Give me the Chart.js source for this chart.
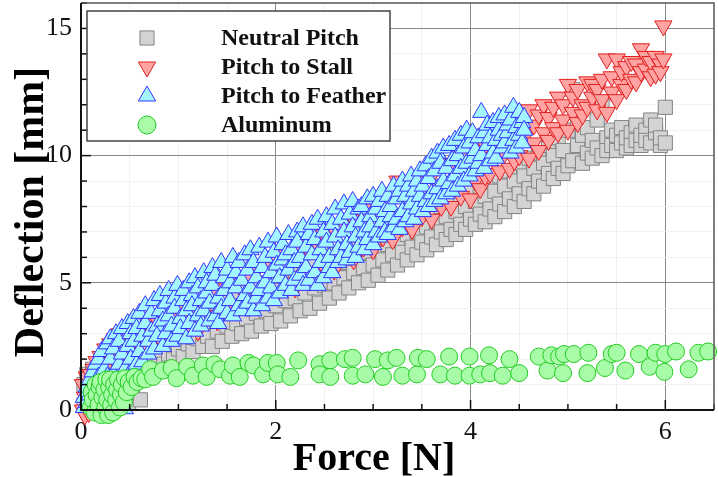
<!DOCTYPE html>
<html>
<head>
<meta charset="utf-8">
<script src="https://cdn.jsdelivr.net/npm/chart.js@4.4.1/dist/chart.umd.min.js"></script>
<style>
  html, body { margin: 0; padding: 0; background: #fff; }
  canvas { display: block; }
</style>
</head>
<body>
<canvas id="myChart" width="718" height="477"></canvas>
<script>
/* globals Chart:false */

// Series names
const seriesNames = ['Neutral Pitch', 'Pitch to Stall', 'Pitch to Feather', 'Aluminum']

// Axis labels
const xTitle = 'Force [N]'
const yTitle = 'Deflection [mm]'
const xTickLabels = [0, 2, 4, 6]
const yTickLabels = [0, 5, 10, 15]

// Neutral Pitch (grey squares), [force, deflection]
const neutralPoints = [
  [0.03, 0.2], [0.03, 1.0], [0.06, 0.6], [0.06, 1.4], [0.09, 0.1], [0.09, 1.1], [0.12, 0.8], [0.12, 1.6],
  [0.15, 0.4], [0.15, 1.3], [0.18, 1.0], [0.18, 1.8], [0.21, 0.3], [0.21, 1.5], [0.25, 0.7], [0.25, 1.9],
  [0.29, 0.2], [0.29, 1.2], [0.33, 0.5], [0.33, 2.0], [0.37, 1.4], [0.37, 0.1], [0.41, 0.6], [0.41, 1.8],
  [0.45, 2.2], [0.45, 1.1], [0.49, 0.3], [0.49, 1.6], [0.53, 2.3], [0.53, 0.7], [0.57, 1.3], [0.57, 1.9],
  [0.61, 2.5], [0.61, 0.4], [0.65, 1.5], [0.65, 2.1], [0.7, 2.7], [0.7, 1.8], [0.75, 1.6], [0.75, 2.4],
  [0.8, 3.0], [0.8, 2.0], [0.85, 1.8], [0.85, 2.6], [0.9, 3.3], [0.9, 2.2], [0.95, 2.0], [0.95, 2.9],
  [1.0, 3.5], [1.0, 2.4], [1.05, 2.1], [1.05, 3.1], [1.1, 3.7], [1.1, 2.6], [1.15, 2.3], [1.15, 3.3],
  [1.2, 3.9], [1.2, 2.8], [1.25, 2.5], [1.25, 3.4], [1.3, 4.0], [1.3, 2.9], [1.35, 2.5], [1.35, 3.6],
  [1.4, 4.2], [1.4, 3.1], [1.45, 2.7], [1.45, 3.8], [1.5, 4.4], [1.5, 3.3], [1.55, 2.9], [1.55, 3.9],
  [1.6, 4.5], [1.6, 3.4], [1.65, 3.0], [1.65, 4.1], [1.7, 4.7], [1.7, 3.6], [1.75, 3.1], [1.75, 4.2],
  [1.8, 4.9], [1.8, 3.8], [1.85, 3.3], [1.85, 4.4], [1.9, 5.0], [1.9, 3.9], [1.95, 3.4], [1.95, 4.6],
  [2.0, 5.2], [2.0, 4.1], [2.05, 3.5], [2.05, 4.7], [2.1, 5.3], [2.1, 4.3], [2.15, 3.7], [2.15, 4.9],
  [2.2, 5.5], [2.2, 4.4], [2.25, 3.9], [2.25, 5.0], [2.3, 5.6], [2.3, 4.6], [2.35, 4.0], [2.35, 5.2],
  [2.4, 5.8], [2.4, 4.8], [2.45, 4.2], [2.45, 5.4], [2.5, 6.0], [2.5, 4.9], [2.55, 4.4], [2.55, 5.5],
  [2.6, 6.1], [2.6, 5.0], [2.65, 4.6], [2.65, 5.7], [2.7, 6.3], [2.7, 5.2], [2.75, 4.8], [2.75, 5.8],
  [2.8, 6.5], [2.8, 5.4], [2.85, 5.0], [2.85, 6.0], [2.9, 6.6], [2.9, 5.6], [2.95, 5.1], [2.95, 6.2],
  [3.0, 6.8], [3.0, 5.7], [3.05, 5.3], [3.05, 6.3], [3.1, 7.0], [3.1, 5.9], [3.15, 5.5], [3.15, 6.5],
  [3.2, 7.1], [3.2, 6.1], [3.25, 5.7], [3.25, 6.7], [3.3, 7.3], [3.3, 6.2], [3.35, 5.9], [3.35, 6.9],
  [3.4, 7.5], [3.4, 6.4], [3.45, 6.1], [3.45, 7.0], [3.5, 7.6], [3.5, 6.6], [3.55, 6.3], [3.55, 7.2],
  [3.6, 7.8], [3.6, 6.8], [3.65, 6.5], [3.65, 7.4], [3.7, 8.0], [3.7, 7.0], [3.75, 6.7], [3.75, 7.6],
  [3.8, 8.2], [3.8, 7.1], [3.85, 6.9], [3.85, 7.8], [3.9, 8.4], [3.9, 7.3], [3.95, 7.1], [3.95, 8.0],
  [4.0, 8.6], [4.0, 7.5], [4.05, 7.3], [4.05, 8.2], [4.1, 8.8], [4.1, 7.7], [4.15, 7.4], [4.15, 8.4],
  [4.2, 9.0], [4.2, 7.9], [4.25, 7.6], [4.25, 8.6], [4.3, 9.2], [4.3, 8.1], [4.35, 7.8], [4.35, 8.8],
  [4.4, 9.4], [4.4, 8.3], [4.45, 8.0], [4.45, 9.0], [4.5, 9.7], [4.5, 8.5], [4.55, 8.2], [4.55, 9.2],
  [4.6, 9.9], [4.6, 8.7], [4.65, 8.5], [4.65, 9.5], [4.7, 10.1], [4.7, 9.0], [4.75, 8.8], [4.75, 9.7],
  [4.8, 10.4], [4.8, 9.3], [4.85, 9.1], [4.85, 10.0], [4.9, 10.7], [4.9, 9.5], [4.95, 9.3], [4.95, 10.2],
  [5.0, 11.0], [5.0, 9.6], [5.05, 12.6], [5.05, 9.8], [5.1, 10.4], [5.1, 11.3], [5.15, 9.7], [5.15, 10.8],
  [5.2, 11.1], [5.2, 10.1], [5.25, 9.9], [5.25, 10.6], [5.3, 11.4], [5.3, 10.3], [5.35, 12.0], [5.35, 10.0],
  [5.4, 10.7], [5.4, 10.2], [5.45, 11.0], [5.45, 10.4], [5.5, 10.2], [5.5, 10.8], [5.55, 10.5], [5.55, 11.1],
  [5.6, 10.3], [5.6, 10.7], [5.65, 10.9], [5.65, 10.4], [5.7, 10.6], [5.7, 11.2], [5.75, 10.4], [5.75, 10.8],
  [5.8, 11.0], [5.8, 10.6], [5.85, 11.4], [5.85, 10.5], [5.9, 10.9], [5.9, 11.2], [5.95, 10.4], [5.95, 10.7],
  [6.0, 11.9], [6.0, 10.5]
]

// Pitch to Stall (red down triangles)
const stallPoints = [
  [0.02, 0.0], [0.02, 1.0], [0.04, 0.5], [0.04, -0.2], [0.06, 1.3], [0.06, 0.2], [0.08, 0.8], [0.08, -0.1],
  [0.1, 1.4], [0.1, 0.4], [0.13, 1.0], [0.13, 1.6], [0.16, 0.6], [0.16, 1.9], [0.2, 1.3], [0.2, 2.1],
  [0.25, 1.1], [0.25, 2.4], [0.3, 1.6], [0.3, 2.6], [0.35, 1.9], [0.35, 2.8], [0.4, 2.2], [0.4, 3.0],
  [0.45, 1.8], [0.45, 2.6], [0.5, 2.4], [0.5, 3.1], [0.55, 2.0], [0.55, 2.8], [0.6, 3.0], [0.6, 3.4],
  [0.65, 2.4], [0.65, 3.2], [0.7, 3.3], [0.7, 2.8], [0.75, 3.6], [0.75, 3.0], [0.8, 3.4], [0.8, 2.9],
  [0.85, 3.7], [0.85, 3.1], [0.9, 3.2], [0.9, 3.9], [0.95, 3.6], [0.95, 2.9], [1.0, 3.4], [1.0, 4.0],
  [1.1, 3.1], [1.1, 3.8], [1.2, 3.1], [1.2, 4.2], [1.3, 3.7], [1.3, 4.4], [1.4, 3.5], [1.4, 4.6],
  [1.5, 4.0], [1.5, 4.8], [1.6, 3.9], [1.6, 5.0], [1.7, 4.4], [1.7, 5.2], [1.8, 4.2], [1.8, 5.5],
  [1.9, 4.7], [1.9, 5.7], [2.0, 4.5], [2.0, 5.9], [2.1, 5.0], [2.1, 6.1], [2.2, 4.8], [2.2, 6.3],
  [2.3, 5.3], [2.3, 6.5], [2.4, 5.1], [2.4, 6.7], [2.5, 5.6], [2.5, 6.9], [2.6, 5.5], [2.6, 7.1],
  [2.7, 6.0], [2.7, 7.3], [2.8, 5.9], [2.8, 7.5], [2.9, 6.4], [2.9, 7.7], [3.0, 6.3], [3.0, 7.9],
  [3.1, 6.8], [3.1, 8.1], [3.2, 6.7], [3.2, 8.3], [3.25, 9.0], [3.25, 7.4], [3.3, 7.2], [3.3, 8.5],
  [3.4, 7.1], [3.4, 8.8], [3.5, 7.6], [3.5, 9.0], [3.6, 7.5], [3.6, 9.2], [3.7, 8.0], [3.7, 9.5],
  [3.8, 8.0], [3.8, 9.7], [3.9, 8.4], [3.9, 10.0], [4.0, 8.3], [4.0, 10.2], [4.05, 9.0], [4.05, 10.6],
  [4.1, 8.7], [4.1, 9.6], [4.15, 10.4], [4.15, 9.2], [4.2, 9.3], [4.2, 10.8], [4.25, 9.9], [4.25, 10.3],
  [4.3, 9.4], [4.3, 11.0], [4.35, 10.1], [4.35, 10.6], [4.4, 9.5], [4.4, 11.3], [4.45, 10.4], [4.45, 9.8],
  [4.5, 11.5], [4.5, 10.0], [4.55, 10.7], [4.55, 11.1], [4.6, 9.9], [4.6, 11.8], [4.65, 10.5], [4.65, 11.2],
  [4.7, 11.6], [4.7, 10.2], [4.75, 10.9], [4.75, 12.0], [4.8, 10.6], [4.8, 11.5], [4.85, 11.9], [4.85, 11.1],
  [4.9, 12.3], [4.9, 10.9], [4.95, 11.4], [4.95, 12.0], [5.0, 12.8], [5.0, 11.0], [5.05, 11.7], [5.05, 12.3],
  [5.1, 11.3], [5.1, 12.6], [5.15, 12.0], [5.15, 11.6], [5.2, 12.9], [5.2, 11.9], [5.25, 12.3], [5.25, 12.8],
  [5.3, 11.8], [5.3, 12.6], [5.35, 13.0], [5.35, 12.2], [5.4, 13.8], [5.4, 11.7], [5.45, 12.5], [5.45, 13.1],
  [5.5, 13.8], [5.5, 12.2], [5.55, 12.8], [5.55, 13.3], [5.6, 13.5], [5.6, 12.6], [5.65, 13.0], [5.65, 13.7],
  [5.7, 13.6], [5.7, 12.9], [5.75, 14.2], [5.75, 13.3], [5.8, 13.4], [5.8, 13.9], [5.85, 13.1], [5.85, 13.7],
  [5.9, 13.2], [5.9, 13.9], [5.95, 13.6], [5.95, 13.3], [5.98, 15.1], [5.98, 13.8]
]

// Pitch to Feather (blue up triangles)
const featherPoints = [
  [0.03, 0.1], [0.03, 0.5], [0.06, 0.9], [0.06, 0.3], [0.09, 1.2], [0.09, 0.6], [0.12, 0.2], [0.12, 1.5],
  [0.15, 0.9], [0.15, 1.8], [0.18, 0.5], [0.18, 1.3], [0.18, 2.0], [0.21, 1.0], [0.21, 2.3], [0.24, 0.7],
  [0.24, 1.6], [0.27, 1.3], [0.27, 2.6], [0.3, 0.9], [0.3, 2.0], [0.3, 2.8], [0.33, 1.4], [0.33, 2.4],
  [0.36, 1.1], [0.36, 3.0], [0.39, 1.8], [0.39, 2.7], [0.42, 1.3], [0.42, 3.2], [0.42, 2.2], [0.45, 0.05],
  [0.45, 1.6], [0.48, 2.5], [0.48, 3.4], [0.51, 1.5], [0.51, 2.0], [0.51, 3.0], [0.54, 2.7], [0.54, 3.6],
  [0.57, 1.8], [0.57, 3.2], [0.6, 2.3], [0.6, 3.8], [0.63, 1.9], [0.63, 2.9], [0.66, 3.4], [0.66, 4.1],
  [0.69, 2.2], [0.69, 2.7], [0.72, 3.1], [0.72, 3.8], [0.75, 2.4], [0.75, 4.3], [0.78, 3.3], [0.78, 2.9],
  [0.81, 3.9], [0.81, 4.5], [0.84, 2.5], [0.84, 3.5], [0.87, 3.0], [0.87, 4.2], [0.9, 4.7], [0.9, 3.7],
  [0.93, 2.7], [0.93, 3.3], [0.96, 4.4], [0.96, 4.0], [0.99, 2.9], [0.99, 4.9], [1.02, 3.6], [1.02, 3.2],
  [1.05, 4.3], [1.05, 4.7], [1.08, 2.8], [1.08, 3.9], [1.11, 5.0], [1.11, 3.4], [1.14, 4.5], [1.14, 4.1],
  [1.17, 3.1], [1.17, 5.2], [1.2, 3.7], [1.2, 4.8], [1.23, 4.3], [1.23, 3.3], [1.26, 5.4], [1.26, 3.9],
  [1.29, 4.6], [1.29, 5.0], [1.32, 3.5], [1.32, 4.2], [1.35, 5.6], [1.35, 4.9], [1.38, 3.7], [1.38, 5.3],
  [1.41, 4.4], [1.41, 3.4], [1.44, 5.8], [1.44, 4.0], [1.47, 4.7], [1.47, 5.2], [1.5, 3.8], [1.5, 5.5],
  [1.53, 4.3], [1.53, 5.0], [1.56, 6.0], [1.56, 3.7], [1.59, 4.8], [1.59, 5.4], [1.62, 4.1], [1.62, 5.8],
  [1.65, 5.1], [1.65, 3.9], [1.68, 6.1], [1.68, 4.5], [1.71, 5.5], [1.71, 4.2], [1.74, 4.8], [1.74, 6.3],
  [1.77, 3.9], [1.77, 5.8], [1.8, 5.2], [1.8, 4.4], [1.83, 6.4], [1.83, 4.7], [1.86, 5.6], [1.86, 4.1],
  [1.89, 6.0], [1.89, 5.0], [1.92, 4.4], [1.92, 6.6], [1.95, 5.4], [1.95, 4.8], [1.98, 6.2], [1.98, 4.3],
  [2.01, 5.7], [2.01, 6.8], [2.04, 4.6], [2.04, 5.2], [2.07, 6.5], [2.07, 5.9], [2.1, 4.9], [2.1, 6.1],
  [2.13, 5.5], [2.13, 6.9], [2.16, 4.7], [2.16, 6.3], [2.19, 5.8], [2.19, 5.1], [2.22, 7.0], [2.22, 6.6],
  [2.25, 5.3], [2.25, 6.0], [2.28, 4.9], [2.28, 7.2], [2.31, 6.4], [2.31, 5.6], [2.34, 6.9], [2.34, 5.1],
  [2.37, 6.1], [2.37, 7.3], [2.4, 5.4], [2.4, 6.7], [2.43, 4.9], [2.43, 7.5], [2.46, 6.3], [2.46, 5.8],
  [2.49, 7.0], [2.49, 5.2], [2.52, 6.6], [2.52, 7.6], [2.55, 5.6], [2.55, 6.0], [2.58, 7.3], [2.58, 5.4],
  [2.61, 6.8], [2.61, 7.9], [2.64, 5.8], [2.64, 6.3], [2.67, 7.5], [2.67, 6.0], [2.7, 7.0], [2.7, 8.1],
  [2.73, 5.9], [2.73, 6.5], [2.76, 7.7], [2.76, 6.2], [2.79, 7.2], [2.79, 8.2], [2.82, 6.0], [2.82, 6.8],
  [2.85, 7.9], [2.85, 6.4], [2.88, 7.4], [2.88, 8.0], [2.91, 6.3], [2.91, 7.0], [2.94, 8.3], [2.94, 6.7],
  [2.97, 7.6], [2.97, 7.2], [3.0, 6.5], [3.0, 8.4], [3.03, 7.9], [3.03, 7.0], [3.06, 6.8], [3.06, 8.2],
  [3.09, 7.4], [3.09, 8.6], [3.12, 7.0], [3.12, 7.8], [3.15, 8.4], [3.15, 6.9], [3.18, 7.6], [3.18, 8.0],
  [3.21, 7.2], [3.21, 8.8], [3.24, 8.3], [3.24, 7.5], [3.27, 7.1], [3.27, 8.6], [3.3, 7.8], [3.3, 9.0],
  [3.33, 7.4], [3.33, 8.4], [3.36, 8.8], [3.36, 7.6], [3.39, 8.1], [3.39, 9.2], [3.42, 7.5], [3.42, 8.6],
  [3.45, 9.0], [3.45, 7.9], [3.48, 8.4], [3.48, 9.4], [3.51, 7.8], [3.51, 8.8], [3.54, 9.6], [3.54, 8.2],
  [3.57, 8.0], [3.57, 9.1], [3.6, 9.9], [3.6, 8.5], [3.63, 8.2], [3.63, 9.4], [3.66, 10.1], [3.66, 8.7],
  [3.69, 8.3], [3.69, 9.7], [3.72, 9.0], [3.72, 10.3], [3.75, 8.5], [3.75, 9.5], [3.78, 10.4], [3.78, 8.9],
  [3.81, 9.8], [3.81, 8.6], [3.84, 9.2], [3.84, 10.6], [3.87, 8.8], [3.87, 10.0], [3.9, 9.5], [3.9, 10.8],
  [3.93, 9.0], [3.93, 10.3], [3.96, 11.0], [3.96, 9.7], [3.99, 9.2], [3.99, 10.5], [4.02, 10.9], [4.02, 9.9],
  [4.05, 9.4], [4.05, 10.2], [4.08, 10.7], [4.08, 9.7], [4.11, 11.7], [4.11, 10.0], [4.14, 9.5], [4.14, 10.9],
  [4.17, 10.4], [4.17, 11.2], [4.2, 9.8], [4.2, 10.7], [4.23, 11.3], [4.23, 10.1], [4.26, 10.6], [4.26, 9.9],
  [4.29, 11.0], [4.29, 11.5], [4.32, 10.3], [4.32, 10.8], [4.35, 11.6], [4.35, 10.5], [4.38, 10.9], [4.38, 11.2],
  [4.41, 10.1], [4.41, 11.4], [4.44, 10.6], [4.44, 11.9], [4.47, 10.3], [4.47, 11.1], [4.5, 11.7], [4.5, 10.8],
  [4.53, 11.3], [4.53, 10.5], [4.55, 11.5], [4.55, 11.0]
]

// Aluminum (green circles)
const aluminumPoints = [
  [0.1, 0.1], [0.11, 0.7], [0.12, 0.4], [0.14, -0.1], [0.15, 1.0], [0.16, 0.6], [0.18, 0.2], [0.19, 0.9],
  [0.2, 1.1], [0.21, -0.2], [0.22, 0.5], [0.24, 0.8], [0.25, 0.1], [0.26, 1.2], [0.27, 0.4], [0.28, -0.2],
  [0.29, 0.9], [0.3, 1.2], [0.31, 0.2], [0.32, 0.6], [0.33, -0.1], [0.34, 1.0], [0.36, 0.4], [0.37, 0.8],
  [0.38, 1.2], [0.4, 0.1], [0.41, 0.6], [0.42, 1.0], [0.44, 0.3], [0.45, 1.25], [0.47, 0.7], [0.49, 1.1],
  [0.52, 0.9], [0.55, 1.3], [0.58, 1.1], [0.62, 1.25], [0.66, 1.2], [0.71, 1.6], [0.74, 1.3], [0.84, 1.55],
  [0.93, 1.65], [0.98, 1.25], [1.09, 1.7], [1.15, 1.35], [1.25, 1.75], [1.29, 1.3], [1.37, 1.8], [1.43, 1.6],
  [1.53, 1.35], [1.56, 1.75], [1.63, 1.3], [1.72, 1.85], [1.77, 1.75], [1.87, 1.4], [1.92, 1.85], [2.01, 1.85],
  [2.02, 1.4], [2.15, 1.3], [2.23, 1.95], [2.45, 1.8], [2.45, 1.4], [2.56, 1.95], [2.56, 1.3], [2.71, 2.0],
  [2.79, 2.05], [2.79, 1.35], [2.92, 1.4], [3.02, 2.0], [3.1, 1.3], [3.15, 1.95], [3.24, 2.05], [3.3, 1.35],
  [3.45, 1.4], [3.46, 2.05], [3.55, 2.0], [3.69, 1.4], [3.78, 2.1], [3.84, 1.35], [3.99, 2.1], [3.99, 1.35],
  [4.1, 1.4], [4.19, 2.15], [4.2, 1.45], [4.33, 1.35], [4.4, 2.0], [4.5, 1.45], [4.7, 2.1], [4.79, 1.55],
  [4.83, 2.15], [4.91, 2.1], [4.95, 1.45], [4.96, 2.2], [5.06, 2.2], [5.2, 1.45], [5.21, 2.25], [5.38, 1.65],
  [5.45, 2.2], [5.5, 2.25], [5.59, 1.55], [5.73, 2.2], [5.84, 1.7], [5.9, 2.25], [5.99, 1.5], [6.0, 2.2],
  [6.11, 2.3], [6.24, 1.6], [6.34, 2.25], [6.44, 2.3]
]

const toPoints = pts => pts.map(p => ({ x: p[0], y: p[1] }))

// inward tick marks and plot frame
const frameTicks = {
  id: 'frameTicks',
  afterDatasetsDraw(chart) {
    const { ctx, chartArea: a, scales } = chart
    ctx.save()
    ctx.strokeStyle = '#111'
    ctx.lineWidth = 1.5
    scales.x.ticks.forEach(t => {
      const px = scales.x.getPixelForValue(t.value)
      const len = t.value % 2 === 0 ? 10 : 6
      ctx.beginPath()
      ctx.moveTo(px, a.bottom)
      ctx.lineTo(px, a.bottom - len)
      ctx.stroke()
    })
    scales.y.ticks.forEach(t => {
      const py = scales.y.getPixelForValue(t.value)
      const len = t.value % 5 === 0 ? 10 : 6
      ctx.beginPath()
      ctx.moveTo(a.left, py)
      ctx.lineTo(a.left + len, py)
      ctx.stroke()
    })
    ctx.strokeStyle = '#555'
    ctx.lineWidth = 1.5
    ctx.beginPath()
    ctx.moveTo(a.left, a.top)
    ctx.lineTo(a.right, a.top)
    ctx.lineTo(a.right, a.bottom)
    ctx.stroke()
    ctx.strokeStyle = '#111'
    ctx.lineWidth = 2
    ctx.beginPath()
    ctx.moveTo(a.left, a.top)
    ctx.lineTo(a.left, a.bottom)
    ctx.lineTo(a.right, a.bottom)
    ctx.stroke()
    ctx.restore()
  }
}

// legend box inside the plot, top left
const legendBox = {
  id: 'legendBox',
  afterDatasetsDraw(chart) {
    const { ctx, chartArea: a } = chart
    const left = a.left + 6
    const top = a.top + 8
    ctx.save()
    ctx.fillStyle = '#fff'
    ctx.fillRect(left, top, 303, 130)
    ctx.strokeStyle = '#444'
    ctx.lineWidth = 1.5
    ctx.strokeRect(left, top, 303, 130)
    chart.data.datasets.forEach((ds, i) => {
      const y = top + 27 + i * 29
      ctx.fillStyle = ds.backgroundColor
      ctx.strokeStyle = ds.borderColor
      ctx.lineWidth = 1
      Chart.helpers.drawPoint(ctx, {
        pointStyle: ds.pointStyle,
        rotation: ds.pointRotation || 0,
        radius: ds.legendRadius,
        borderWidth: 1
      }, left + 60, y)
      ctx.fillStyle = '#111'
      ctx.font = 'bold 24px "Liberation Serif"'
      ctx.textBaseline = 'middle'
      ctx.textAlign = 'left'
      ctx.fillText(ds.label, left + 134, y + 1)
    })
    ctx.restore()
  }
}

// axis titles
const axisTitles = {
  id: 'axisTitles',
  afterDraw(chart) {
    const { ctx } = chart
    ctx.save()
    ctx.fillStyle = '#000'
    ctx.textAlign = 'center'
    ctx.textBaseline = 'alphabetic'
    ctx.font = 'bold 40px "Liberation Serif"'
    ctx.fillText(xTitle, 374, 470)
    ctx.translate(43, 212)
    ctx.rotate(-Math.PI / 2)
    ctx.font = 'bold 42px "Liberation Serif"'
    ctx.fillText(yTitle, 0, 0)
    ctx.restore()
  }
}

const ctx = document.getElementById('myChart')
// eslint-disable-next-line no-unused-vars
const myChart = new Chart(ctx, {
  type: 'scatter',
  data: {
    datasets: [{
      label: seriesNames[0],
      data: toPoints(neutralPoints),
      pointStyle: 'rect',
      pointRadius: 10,
      legendRadius: 10,
      backgroundColor: '#d3d3d3',
      borderColor: '#858585',
      borderWidth: 1,
      clip: false,
      order: 4
    }, {
      label: seriesNames[1],
      data: toPoints(stallPoints),
      pointStyle: 'triangle',
      pointRotation: 180,
      pointRadius: 10,
      legendRadius: 10,
      backgroundColor: '#ffa3a3',
      borderColor: '#e32020',
      borderWidth: 1,
      clip: false,
      order: 3
    }, {
      label: seriesNames[2],
      data: toPoints(featherPoints),
      pointStyle: 'triangle',
      pointRadius: 10,
      legendRadius: 10,
      backgroundColor: '#a3f5ff',
      borderColor: '#3333ff',
      borderWidth: 1,
      clip: false,
      order: 2
    }, {
      label: seriesNames[3],
      data: toPoints(aluminumPoints),
      pointStyle: 'circle',
      pointRadius: 8.5,
      legendRadius: 9,
      backgroundColor: '#a8fca8',
      borderColor: '#22cc22',
      borderWidth: 1,
      clip: false,
      order: 1
    }]
  },
  options: {
    responsive: false,
    animation: false,
    layout: { autoPadding: false, padding: { top: 3, right: 4, left: 0, bottom: 0 } },
    plugins: {
      legend: { display: false },
      tooltip: { enabled: false }
    },
    scales: {
      x: {
        type: 'linear',
        min: 0,
        max: 6.5,
        afterFit(scale) {
          scale.height = 67
          scale.paddingLeft = 0
          scale.paddingRight = 0
        },
        border: { display: false },
        grid: {
          drawTicks: false,
          color: c => (c.tick.value === 0 || c.tick.value === 6.5)
            ? 'rgba(0,0,0,0)'
            : (xTickLabels.includes(c.tick.value) ? '#8a8a8a' : '#f1f1f1')
        },
        ticks: {
          stepSize: 0.5,
          autoSkip: false,
          maxRotation: 0,
          padding: 7,
          color: '#111',
          font: { family: '"Liberation Serif"', size: 26 },
          callback: v => (xTickLabels.includes(v) ? String(v) : '')
        }
      },
      y: {
        type: 'linear',
        min: 0,
        max: 16,
        afterFit(scale) {
          scale.width = 81
          scale.paddingTop = 0
          scale.paddingBottom = 0
        },
        border: { display: false },
        grid: {
          drawTicks: false,
          color: c => (c.tick.value === 0 || c.tick.value === 16)
            ? 'rgba(0,0,0,0)'
            : (yTickLabels.includes(c.tick.value) ? '#8a8a8a' : '#f1f1f1')
        },
        ticks: {
          stepSize: 1,
          autoSkip: false,
          padding: 9,
          color: '#111',
          font: { family: '"Liberation Serif"', size: 26 },
          callback: v => (yTickLabels.includes(v) ? String(v) : '')
        }
      }
    }
  },
  plugins: [frameTicks, legendBox, axisTitles]
})
</script>
</body>
</html>
